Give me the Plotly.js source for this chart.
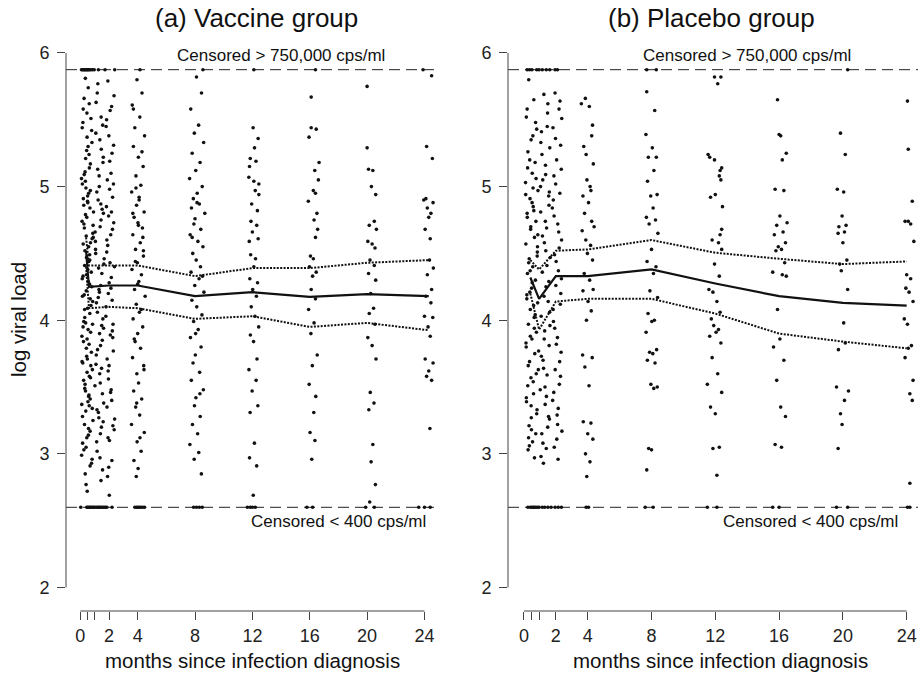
<!DOCTYPE html>
<html><head><meta charset="utf-8">
<script src="https://cdn.plot.ly/plotly-3.0.1.min.js"></script>
<style>html,body{margin:0;padding:0;background:#fff}#chart{width:918px;height:673px}</style>
</head><body><div id="chart"></div>
<script>
// ---------- axis ticks ----------
const xTickVals = [0, 0.5, 1, 2, 4, 8, 12, 16, 20, 24];
const xTickText = ['0', '', '', '2', '4', '8', '12', '16', '20', '24'];
const yTickVals = [2, 3, 4, 5, 6];
const censorHigh = 5.875;   // > 750,000 cps/ml
const censorLow = 2.6;      // < 400 cps/ml

// ---------- (a) Vaccine group: observations ----------
const vacE1Y = [5.81,5.62,5.48,5.33,5.27,5.09,4.97,4.88,4.74,4.62,
 4.55,4.41,4.36,4.22,4.18,4.05,3.97,3.84,3.71,3.66,
 3.52,3.44,3.37,3.25,3.12,3.03,2.91,2.77,5.74,5.58,
 5.42,5.21,5.14,5.02,4.93,4.81,4.69,4.58,4.47,4.33,
 4.27,4.14,4.02,3.93,3.88,3.76,3.61,3.55,3.41,3.32,
 3.19,3.08,2.96,2.85,5.66,5.51,5.37,5.24,5.06,4.99,
 4.91,4.84,4.77,4.65,4.52,4.44,4.31,4.25,4.09,3.99,
 3.91,3.79,3.68,3.58,3.47,3.34,3.22,3.14,2.99,2.72,
 5.55,5.44,5.17,5.04,4.95,4.86,4.71,4.63,4.49,4.38,
 4.19,4.11,3.95,3.82,3.73,3.63,3.49,3.39,3.28,3.17,
 3.05,2.93,4.79,4.57,4.45,4.29,4.08,3.86,3.57,3.43,
 4.89,4.72,4.61,4.34,4.16,3.98,3.69,3.36,5.30,5.11];
const vacE1X = [0.35,0.62,0.18,0.81,0.44,0.27,0.70,0.52,0.12,0.90,
 0.58,0.30,0.76,0.41,0.15,0.66,0.85,0.22,0.49,0.73,
 0.33,0.60,0.10,0.88,0.45,0.25,0.68,0.40,0.55,0.20,
 0.79,0.37,0.63,0.14,0.51,0.92,0.28,0.71,0.43,0.19,
 0.64,0.86,0.31,0.54,0.11,0.77,0.47,0.23,0.69,0.38,
 0.57,0.16,0.82,0.34,0.26,0.74,0.47,0.61,0.08,0.39,
 0.21,0.67,0.45,0.87,0.32,0.59,0.13,0.80,0.50,0.24,
 0.72,0.42,0.17,0.63,0.36,0.83,0.29,0.56,0.09,0.48,
 0.46,0.13,0.70,0.35,0.58,0.24,0.89,0.41,0.65,0.52,
 0.27,0.74,0.19,0.61,0.44,0.84,0.31,0.53,0.15,0.68,
 0.40,0.78,0.36,0.20,0.66,0.55,0.30,0.47,0.71,0.58,
 0.50,0.25,0.82,0.43,0.69,0.37,0.12,0.62,0.54,0.33];
const vacE2Y = [5.77,5.52,5.40,5.22,5.08,4.96,4.83,4.70,4.59,4.46,
 4.39,4.26,4.13,4.01,3.90,3.78,3.64,3.51,3.38,3.27,
 3.15,3.02,2.88,5.63,5.35,5.18,4.90,4.75,4.53,4.35,
 4.21,4.06,3.94,3.81,3.67,3.45,3.31,3.20,3.09,2.97,
 5.46,5.13,4.87,4.66,4.42,4.23,3.96,3.74,3.53,3.24,
 5.70,5.28,5.00,4.80,4.50,4.17,3.85,3.60,3.33,2.80];
const vacE2X = [1.22,1.45,1.08,1.60,1.31,1.15,1.52,1.38,1.05,1.66,
 1.27,1.42,1.12,1.57,1.34,1.20,1.48,1.02,1.63,1.29,
 1.40,1.17,1.55,1.10,1.36,1.58,1.24,1.44,1.06,1.50,
 1.33,1.19,1.62,1.41,1.09,1.54,1.26,1.47,1.14,1.37,
 1.56,1.21,1.43,1.03,1.64,1.30,1.49,1.11,1.39,1.59,
 1.18,1.46,1.32,1.61,1.07,1.25,1.53,1.35,1.16,1.44];
const vacE3Y = [5.79,5.60,5.45,5.31,5.19,5.05,4.92,4.78,4.64,4.51,
 4.40,4.28,4.15,4.03,3.89,3.77,3.62,3.48,3.35,3.21,
 3.10,2.95,2.83,5.68,5.38,5.10,4.85,4.68,4.43,4.20,
 3.97,3.71,3.46,3.18,2.90,5.50,5.25,4.98,4.73,4.56,
 4.32,4.10,3.87,3.66,3.40,3.12,5.57,5.02,4.60,4.24,
 3.92,3.56,3.26,2.69,4.81];
const vacE3X = [1.92,2.18,1.80,2.32,2.05,1.88,2.25,1.97,2.12,1.84,
 2.38,2.01,2.22,1.78,2.09,2.30,1.94,2.15,1.86,2.27,
 2.03,2.20,1.90,2.35,1.99,2.14,1.82,2.24,2.07,1.95,
 2.28,1.87,2.11,2.36,1.98,1.83,2.21,2.04,2.33,1.91,
 2.16,1.79,2.26,2.00,2.19,1.93,2.08,2.31,1.85,2.13,
 2.23,1.96,2.39,2.02,2.17];
const vacM4Y = [5.80,5.70,5.61,5.52,5.44,5.38,5.30,5.22,5.15,5.08,
 5.01,4.96,4.90,4.86,4.81,4.77,4.73,4.69,4.64,4.58,
 4.53,4.48,4.43,4.38,4.34,4.29,4.23,4.18,4.12,4.06,
 4.01,3.95,3.90,3.84,3.79,3.72,3.66,3.60,3.53,3.47,
 3.41,3.35,3.29,3.22,3.16,3.09,3.02,2.95,2.89,2.83,
 4.92,4.80,4.62,4.44,4.27,4.08,3.86,3.63,3.38,3.12,
 5.58,5.26,4.99,4.71,4.52];
const vacM4X = [3.95,4.30,3.62,4.15,3.80,4.48,3.70,4.05,4.38,3.88,
 4.22,3.58,4.10,3.92,4.45,3.75,4.02,4.33,3.66,4.18,
 3.85,4.40,3.98,3.60,4.26,4.08,3.78,4.52,3.90,4.12,
 3.68,4.35,4.00,3.82,4.20,3.64,4.42,3.94,4.06,3.72,
 4.28,3.86,4.14,3.57,4.46,3.96,4.24,3.74,4.03,3.90,
 4.10,3.66,4.36,3.84,4.00,4.25,3.76,4.44,3.93,4.16,
 3.70,4.30,3.88,4.05,4.40];
const vacM8Y = [5.82,5.70,5.58,5.46,5.40,5.33,5.25,5.18,5.12,5.06,
 5.00,4.95,4.91,4.87,4.84,4.80,4.76,4.72,4.68,4.64,
 4.59,4.55,4.50,4.45,4.40,4.36,4.31,4.26,4.21,4.15,
 4.10,4.04,3.99,3.93,3.87,3.80,3.74,3.68,3.61,3.55,
 3.48,3.42,3.36,3.28,3.22,3.15,3.07,3.01,2.96,2.85,
 4.88,4.62,4.33,3.90,3.45];
const vacM8X = [8.10,8.45,7.70,8.25,7.95,8.60,7.80,8.35,8.05,7.62,
 8.50,8.15,7.88,8.30,7.75,8.68,8.00,7.92,8.40,7.66,
 8.20,8.55,7.84,8.08,8.38,7.72,8.28,7.98,8.62,7.78,
 8.12,8.48,7.90,8.22,7.68,8.42,8.02,7.86,8.32,7.74,
 8.58,8.06,7.96,8.36,7.82,8.18,7.64,8.26,7.94,8.44,
 8.14,7.80,8.52,8.04,8.34];
const vacM12Y = [5.44,5.36,5.29,5.21,5.19,5.15,5.07,5.04,5.02,4.97,
 4.94,4.87,4.82,4.74,4.71,4.66,4.61,4.59,4.49,4.46,
 4.40,4.31,4.28,4.23,4.18,4.10,4.03,3.95,3.89,3.84,
 3.71,3.63,3.55,3.47,3.36,3.31,3.08,2.97,2.91,2.69];
const vacM12X = [12.05,12.40,12.15,11.85,12.25,11.80,11.75,12.10,12.45,12.20,
 12.45,11.95,12.35,11.90,12.30,12.00,12.40,11.78,11.88,12.22,
 12.10,11.82,12.36,12.02,12.28,11.92,12.18,12.44,11.86,12.08,
 12.32,11.76,12.26,11.98,12.38,11.84,12.14,11.80,12.30,12.06];
const vacM16Y = [5.67,5.44,5.43,5.37,5.18,5.12,5.05,4.97,4.95,4.89,
 4.80,4.75,4.68,4.62,4.48,4.46,4.40,4.36,4.33,4.23,
 4.16,4.08,3.98,3.90,3.74,3.66,3.52,3.43,3.31,3.16,
 3.10,2.96];
const vacM16X = [16.10,16.10,16.45,15.95,16.65,16.35,16.60,16.25,16.40,15.90,
 16.50,16.30,16.55,16.40,16.05,16.25,15.98,16.45,16.20,16.10,
 16.40,15.92,16.30,16.08,16.52,16.18,15.96,16.42,16.28,16.02,
 16.36,16.14];
const vacM20Y = [5.75,5.29,5.13,5.12,5.00,4.94,4.74,4.71,4.68,4.59,
 4.57,4.54,4.45,4.41,4.35,4.30,4.20,4.09,4.05,3.97,
 3.87,3.81,3.71,3.46,3.38,3.33,3.07,2.94,2.77,2.64];
const vacM20X = [20.00,20.00,20.10,20.40,20.30,20.60,20.50,20.15,20.65,20.05,
 20.35,20.55,20.20,20.50,20.10,20.60,20.25,20.45,20.15,20.55,
 20.05,20.35,20.62,20.22,20.48,20.12,20.40,20.28,20.58,20.18];
const vacM24Y = [5.83,5.30,5.21,4.91,4.90,4.88,4.84,4.80,4.77,4.68,
 4.61,4.45,4.39,4.34,4.23,4.18,4.13,4.03,4.02,3.95,
 3.88,3.71,3.68,3.62,3.58,3.55,3.19];
const vacM24X = [24.50,24.15,24.55,24.10,23.95,24.60,24.20,24.45,24.30,24.05,
 24.40,24.35,24.62,24.20,24.50,24.10,24.45,24.00,24.58,24.25,
 24.40,24.05,24.60,24.30,24.15,24.50,24.38];
const vacHighX = [0.08,0.15,0.22,0.28,0.33,0.40,0.46,0.52,0.58,0.66,0.74,0.85,0.97,1.26,1.72,2.40,4.16,8.55,12.1,16.4,23.9];
const vacLowX = [0.03,0.45,0.52,0.60,0.68,0.75,0.84,0.92,1.00,1.10,1.20,1.28,1.36,1.45,1.55,1.65,1.75,1.85,2.21,
 3.80,3.92,4.02,4.12,4.22,4.35,4.48,7.90,8.10,8.30,8.50,11.65,11.85,12.0,12.2,15.8,16.2,19.9,20.5,23.6,24.0,24.4];

// ---------- (b) Placebo group: observations ----------
const plaE1Y = [5.80,5.65,5.52,5.43,5.35,5.26,5.18,5.10,5.03,4.97,
 4.91,4.85,4.80,4.74,4.68,4.62,4.57,4.51,4.46,4.40,
 4.35,4.30,4.24,4.19,4.13,4.08,4.02,3.97,3.91,3.86,
 3.80,3.75,3.69,3.63,3.57,3.51,3.45,3.39,3.33,3.27,
 3.21,3.15,3.09,3.03,2.97,5.58,5.38,5.20,5.06,4.94,
 4.82,4.70,4.55,4.43,4.28,4.16,4.04,3.88,3.77,3.66,
 3.54,3.42,3.30,3.18,3.06,5.48,5.14,4.88,4.64,4.37,
 4.11,3.83,3.60,3.36,3.12,4.99,4.77,4.48,4.21,3.94];
const plaE1X = [0.30,0.62,0.15,0.80,0.45,0.25,0.70,0.52,0.10,0.88,
 0.38,0.58,0.20,0.75,0.42,0.66,0.12,0.84,0.33,0.55,
 0.22,0.72,0.48,0.18,0.86,0.40,0.64,0.28,0.78,0.50,
 0.14,0.68,0.35,0.90,0.44,0.24,0.60,0.16,0.82,0.46,
 0.32,0.74,0.54,0.26,0.66,0.20,0.56,0.36,0.76,0.11,
 0.62,0.43,0.85,0.30,0.52,0.18,0.70,0.40,0.92,0.27,
 0.58,0.15,0.80,0.47,0.34,0.73,0.23,0.51,0.87,0.39,
 0.61,0.13,0.77,0.45,0.29,0.57,0.21,0.83,0.37,0.65];
const plaE2Y = [5.69,5.55,5.41,5.29,5.16,5.05,4.93,4.81,4.69,4.58,
 4.47,4.36,4.25,4.14,4.03,3.92,3.81,3.70,3.59,3.48,
 3.37,3.26,3.15,3.04,2.93,5.62,5.33,5.09,4.86,4.63,
 4.41,4.18,3.96,3.73,3.50,3.28,3.08,5.45,5.00,4.52,
 4.06,3.64,3.20,5.24,4.74,4.29,3.86,3.43,2.98,4.96];
const plaE2X = [1.25,1.48,1.10,1.62,1.35,1.18,1.55,1.05,1.42,1.28,
 1.65,1.15,1.38,1.52,1.08,1.30,1.58,1.20,1.45,1.02,
 1.33,1.60,1.12,1.40,1.22,1.50,1.06,1.36,1.57,1.16,
 1.44,1.26,1.63,1.09,1.32,1.54,1.19,1.46,1.04,1.37,
 1.61,1.23,1.49,1.13,1.34,1.56,1.27,1.41,1.07,1.59];
const plaE3Y = [5.70,5.58,5.44,5.31,5.20,5.08,4.95,4.84,4.72,4.60,
 4.49,4.37,4.26,4.12,3.99,3.87,3.76,3.63,3.52,3.40,
 3.29,3.17,3.05,2.96,5.64,5.36,5.13,4.90,4.66,4.44,
 4.20,3.94,3.69,3.46,3.22,5.51,5.02,4.54,4.08,3.58,
 3.11,4.78,4.31,3.82,3.34];
const plaE3X = [1.95,2.20,1.82,2.30,2.05,1.88,2.25,1.78,2.12,2.36,
 1.92,2.16,2.00,2.28,1.85,2.10,2.33,1.96,2.22,1.80,
 2.08,2.38,1.90,2.14,2.26,1.98,2.34,1.84,2.18,2.02,
 2.31,1.93,2.24,1.87,2.11,2.37,1.99,2.21,1.83,2.29,
 2.06,1.89,2.35,2.03,2.15];
const plaM4Y = [5.66,5.62,5.60,5.46,5.38,5.30,5.24,5.17,5.05,5.00,
 4.97,4.93,4.88,4.80,4.74,4.70,4.67,4.60,4.56,4.50,
 4.45,4.35,4.30,4.23,4.22,4.14,4.07,4.00,3.74,3.72,
 3.65,3.51,3.24,3.23,3.15,3.11,3.00,2.94,2.83];
const plaM4X = [3.85,3.60,4.10,4.30,4.25,3.75,3.90,4.35,3.95,4.15,
 4.20,3.70,4.05,3.80,4.25,4.40,3.65,3.88,4.18,3.98,
 4.30,3.78,4.12,4.34,3.70,4.02,4.22,3.92,3.68,4.28,
 3.82,4.08,3.72,4.20,4.00,4.32,3.86,4.14,3.94];
const plaM8Y = [5.71,5.57,5.39,5.29,5.22,5.22,5.12,5.04,4.94,4.93,
 4.84,4.77,4.75,4.72,4.65,4.53,4.44,4.40,4.35,4.22,
 4.17,4.05,4.00,3.99,3.91,3.78,3.76,3.75,3.70,3.68,
 3.52,3.50,3.49,3.04,3.03,2.88];
const plaM8X = [7.70,8.20,7.65,8.05,7.80,8.30,8.15,7.75,8.35,7.95,
 8.10,7.68,8.25,7.85,8.40,8.00,7.72,8.28,8.12,7.90,
 8.38,7.78,8.18,8.02,7.66,8.32,7.88,8.08,7.74,8.22,
 7.96,8.36,8.14,7.82,8.00,7.70];
const plaM12Y = [5.82,5.82,5.77,5.24,5.22,5.20,5.14,5.12,5.08,5.05,
 4.94,4.92,4.85,4.68,4.64,4.60,4.58,4.53,4.42,4.33,
 4.23,4.21,4.14,4.06,4.01,3.96,3.93,3.91,3.88,3.83,
 3.72,3.60,3.52,3.46,3.35,3.30,3.05,3.04,2.84];
const plaM12X = [11.95,12.35,12.15,11.55,11.65,11.95,12.40,12.30,12.25,12.35,
 12.00,11.70,12.45,12.40,12.30,11.80,12.20,12.40,11.95,12.25,
 11.60,11.85,12.10,12.30,11.75,11.90,12.20,12.05,11.65,12.35,
 11.80,12.15,11.50,12.40,11.70,12.00,12.25,11.85,12.10];
const plaM16Y = [5.65,5.39,5.38,5.25,5.20,4.98,4.97,4.78,4.73,4.71,
 4.66,4.64,4.58,4.55,4.53,4.52,4.43,4.36,4.34,4.33,
 4.08,3.86,3.80,3.70,3.55,3.35,3.28,3.07,3.05];
const plaM16X = [15.90,16.00,16.10,16.45,16.20,15.75,16.30,16.05,16.50,15.85,
 16.25,15.70,16.40,15.95,16.15,15.80,16.35,15.60,16.20,16.45,
 15.90,16.05,15.65,16.30,15.85,16.10,16.40,15.75,16.15];
const plaM20Y = [5.40,5.24,4.98,4.96,4.78,4.71,4.70,4.66,4.65,4.58,
 4.45,4.42,4.37,4.23,3.98,3.83,3.78,3.50,3.47,3.40,
 3.30,3.22,3.04];
const plaM20X = [19.85,20.15,19.65,20.05,19.95,20.20,19.75,20.10,19.70,20.00,
 20.25,19.80,19.90,20.30,20.05,20.15,19.72,19.60,20.35,20.10,
 19.85,19.95,19.70];
const plaM24Y = [5.64,5.28,4.89,4.74,4.74,4.72,4.59,4.34,4.31,4.24,
 4.21,4.14,4.01,3.97,3.81,3.79,3.72,3.55,3.45,3.40,2.78];
const plaM24X = [24.05,24.10,24.35,23.90,24.10,24.25,24.45,24.00,24.25,23.95,
 24.15,24.40,23.85,24.05,24.30,24.10,23.90,24.40,24.20,24.35,24.20];
const plaHighX = [0.20,0.35,0.50,0.80,0.95,1.15,1.40,1.62,1.95,2.10,7.7,8.3,20.3];
const plaLowX = [0.25,0.40,0.50,0.58,0.66,0.75,0.85,0.95,1.15,1.30,1.50,1.70,1.95,2.15,2.35,
 3.9,4.05,7.6,8.1,11.5,12.1,15.6,16.0,19.6,20.3,24.05,24.2];

// ---------- fitted mean and pointwise limits ----------
const vacLineX = [0.4, 0.6, 2, 4, 8, 12, 16, 20, 24.3];
const vacMean  = [4.52, 4.25, 4.26, 4.26, 4.18, 4.21, 4.175, 4.195, 4.18];
const vacUpper = [4.62, 4.41, 4.41, 4.41, 4.33, 4.39, 4.39, 4.43, 4.45];
const vacLower = [4.40, 4.09, 4.10, 4.09, 4.01, 4.03, 3.95, 3.98, 3.925];
const plaLineX = [0.4, 0.95, 2, 4, 8, 12, 16, 20, 24];
const plaMean  = [4.32, 4.16, 4.33, 4.33, 4.38, 4.275, 4.18, 4.13, 4.11];
const plaUpper = [4.45, 4.38, 4.52, 4.53, 4.60, 4.505, 4.46, 4.42, 4.44];
const plaLower = [4.20, 3.93, 4.14, 4.16, 4.16, 4.05, 3.90, 3.84, 3.79];

// ---------- build ----------
const FONT = 'Liberation Sans, Arial, Helvetica, sans-serif';
const vacX = [].concat(vacE1X, vacE2X, vacE3X, vacM4X, vacM8X, vacM12X, vacM16X, vacM20X, vacM24X, vacHighX, vacLowX);
const vacY = [].concat(vacE1Y, vacE2Y, vacE3Y, vacM4Y, vacM8Y, vacM12Y, vacM16Y, vacM20Y, vacM24Y,
  vacHighX.map(() => censorHigh), vacLowX.map(() => censorLow));
const plaX = [].concat(plaE1X, plaE2X, plaE3X, plaM4X, plaM8X, plaM12X, plaM16X, plaM20X, plaM24X, plaHighX, plaLowX);
const plaY = [].concat(plaE1Y, plaE2Y, plaE3Y, plaM4Y, plaM8Y, plaM12Y, plaM16Y, plaM20Y, plaM24Y,
  plaHighX.map(() => censorHigh), plaLowX.map(() => censorLow));

function pts(x, y, xa, ya) {
  return {x, y, xaxis: xa, yaxis: ya, type: 'scatter', mode: 'markers',
    marker: {size: 3.6, color: '#111'}, hoverinfo: 'skip', showlegend: false, cliponaxis: false};
}
function ln(x, y, xa, ya, dash, w) {
  return {x, y, xaxis: xa, yaxis: ya, type: 'scatter', mode: 'lines',
    line: {color: '#111', width: w, dash}, hoverinfo: 'skip', showlegend: false};
}
const DOT = '2px,1.4px';
const data = [
  pts(vacX, vacY, 'x', 'y'), pts(plaX, plaY, 'x2', 'y2'),
  ln(vacLineX, vacUpper, 'x', 'y', DOT, 2), ln(vacLineX, vacLower, 'x', 'y', DOT, 2), ln(vacLineX, vacMean, 'x', 'y', 'solid', 2.2),
  ln(plaLineX, plaUpper, 'x2', 'y2', DOT, 2), ln(plaLineX, plaLower, 'x2', 'y2', DOT, 2), ln(plaLineX, plaMean, 'x2', 'y2', 'solid', 2.2)
];

const W = 918, H = 673;
const yDom = [(H - 611) / H, (H - 31.6) / H];
function xax(domain, range) {
  return {domain, range, tickmode: 'array', tickvals: xTickVals, ticktext: xTickText,
    ticks: 'outside', ticklen: 8, tickwidth: 1, tickcolor: '#444', showline: false,
    showgrid: false, zeroline: false, tickfont: {family: FONT, size: 18, color: '#222'}, fixedrange: true};
}
function yax(anchor) {
  return {domain: yDom, range: [1.824, 6.16], anchor, tickmode: 'array', tickvals: yTickVals,
    ticks: 'outside', ticklen: 8, tickwidth: 1, tickcolor: '#444', showline: false, ticklabelstandoff: 4,
    showgrid: false, zeroline: false, tickfont: {family: FONT, size: 18, color: '#222'}, fixedrange: true};
}
const axisLine = {color: '#444', width: 1};
const dashLine = {color: '#222', width: 1, dash: '11px,6px'};
const shapes = [];
[['x', 'y'], ['x2', 'y2']].forEach(([xa, ya]) => {
  shapes.push({type: 'line', xref: xa + ' domain', x0: 0, x1: 0, yref: ya, y0: 2, y1: 6, line: axisLine});
  shapes.push({type: 'line', xref: xa, x0: 0, x1: 24, yref: ya + ' domain', y0: 0, y1: 0, line: axisLine});
  shapes.push({type: 'line', xref: xa + ' domain', x0: 0, x1: 1, yref: ya, y0: censorHigh, y1: censorHigh, line: dashLine, layer: 'below'});
  shapes.push({type: 'line', xref: xa + ' domain', x0: 0, x1: 1, yref: ya, y0: censorLow, y1: censorLow, line: dashLine, layer: 'below'});
});

const tf = (s) => ({family: FONT, size: s, color: '#111'});
const annotations = [
  {text: '(a) Vaccine group', xref: 'paper', yref: 'paper', x: 256 / W, y: 1 - 18 / H, showarrow: false, font: tf(26), xanchor: 'center', yanchor: 'middle'},
  {text: '(b) Placebo group', xref: 'paper', yref: 'paper', x: 711 / W, y: 1 - 18 / H, showarrow: false, font: tf(26), xanchor: 'center', yanchor: 'middle'},
  {text: 'log viral load', xref: 'paper', yref: 'paper', x: 18 / W, y: 1 - 320 / H, textangle: -90, showarrow: false, font: tf(20.5), xanchor: 'center', yanchor: 'middle'},
  {text: 'months since infection diagnosis', xref: 'paper', yref: 'paper', x: 252 / W, y: 1 - 660 / H, showarrow: false, font: tf(20.5), xanchor: 'center', yanchor: 'middle'},
  {text: 'months since infection diagnosis', xref: 'paper', yref: 'paper', x: 720 / W, y: 1 - 660 / H, showarrow: false, font: tf(20.5), xanchor: 'center', yanchor: 'middle'},
  {text: 'Censored > 750,000 cps/ml', xref: 'x', yref: 'y', x: 14, y: 5.98, showarrow: false, font: tf(17), xanchor: 'center', yanchor: 'middle'},
  {text: 'Censored > 750,000 cps/ml', xref: 'x2', yref: 'y2', x: 14, y: 5.98, showarrow: false, font: tf(17), xanchor: 'center', yanchor: 'middle'},
  {text: 'Censored < 400 cps/ml', xref: 'x', yref: 'y', x: 18, y: 2.497, showarrow: false, font: tf(17), xanchor: 'center', yanchor: 'middle'},
  {text: 'Censored < 400 cps/ml', xref: 'x2', yref: 'y2', x: 18, y: 2.497, showarrow: false, font: tf(17), xanchor: 'center', yanchor: 'middle'}
];

const layout = {
  width: W, height: H, margin: {l: 0, r: 0, t: 0, b: 0},
  paper_bgcolor: '#fff', plot_bgcolor: '#fff', showlegend: false,
  xaxis: Object.assign(xax([66 / W, 438.8 / W], [-1, 25]), {anchor: 'y'}),
  yaxis: yax('x'),
  xaxis2: Object.assign(xax([508 / W, 1], [-1, 24.71]), {anchor: 'y2'}),
  yaxis2: yax('x2'),
  shapes, annotations, font: {family: FONT}
};
Plotly.newPlot('chart', data, layout, {displayModeBar: false, staticPlot: true});
</script></body></html>
